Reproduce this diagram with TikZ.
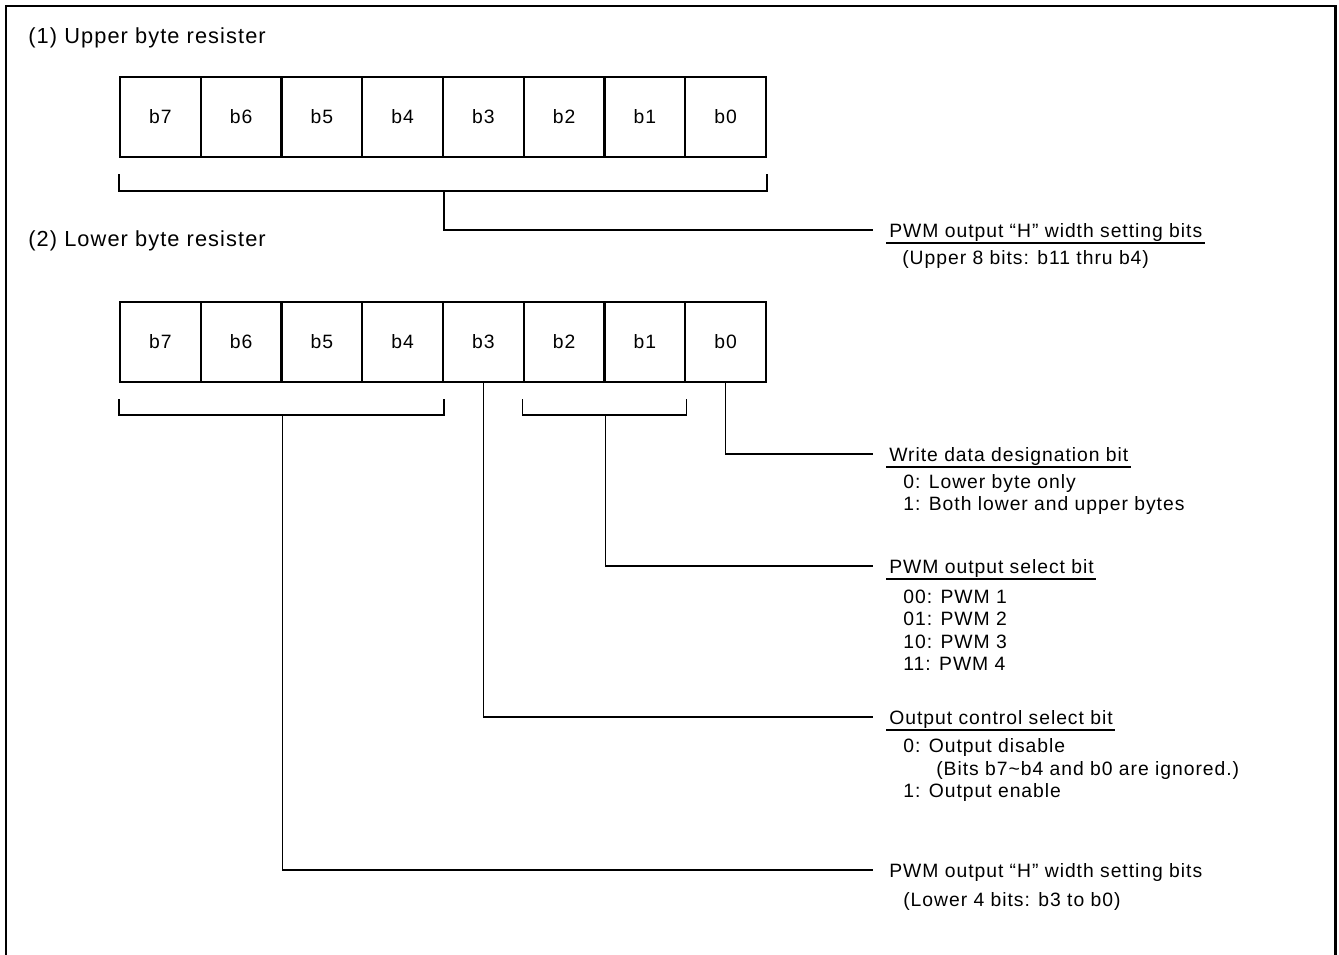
\documentclass[tikz,border=0pt]{standalone}
\usepackage{fontspec}
\setmainfont{Liberation Sans}[LetterSpace=5]
\usetikzlibrary{positioning}

\begin{document}
\begin{tikzpicture}[
    x=0.02cm,y=-0.02cm,
    bitcell/.style={draw,line width=1.3pt,minimum width=1.615cm,minimum height=1.6cm,inner sep=0pt,font=\fontsize{11}{13}\selectfont},
    wire/.style={line width=0.8pt},
    regtitle/.style={anchor=base west,inner sep=0pt,font=\fontsize{12.4}{14}\selectfont},
    fieldname/.style={anchor=base west,inner sep=0pt,font=\fontsize{11}{13}\selectfont},
    fielddesc/.style={anchor=base west,inner sep=0pt,align=left,font=\fontsize{11}{12.86}\selectfont}
]
    \useasboundingbox (0,0) rectangle (1339,954);
    \draw[line width=1.7pt] (6,964) -- (6,6) -- (1335,6) -- (1335,964);

    % register titles
    \node[regtitle] (t1) at (28,43) {(1) Upper byte resister};
    \node[regtitle] (t2) at (28,246) {(2) Lower byte resister};

    % bit cells
    \foreach \b [count=\i from 0] in {7,...,0} {
        \node[bitcell] (u\b) at ({120+80.75*(\i+0.5)},117) {b\b};
        \node[bitcell] (l\b) at ({120+80.75*(\i+0.5)},342) {b\b};
    }

    % field names and descriptions (base = last line)
    \node[fieldname] (h1) at (889,237) {PWM output “H” width setting bits};
    \node[fielddesc] (d1) at ([shift={(0.26cm,-0.54cm)}]h1.base west) {(Upper 8 bits: b11 thru b4)};
    \node[fieldname] (h2) at (889,461) {Write data designation bit};
    \node[fielddesc] (d2) at ([shift={(0.28cm,-1.0cm)}]h2.base west) {0: Lower byte only\\1: Both lower and upper bytes};
    \node[fieldname] (h3) at (889,573) {PWM output select bit};
    \node[fielddesc] (d3) at ([shift={(0.28cm,-1.96cm)}]h3.base west) {00: PWM 1\\01: PWM 2\\10: PWM 3\\11: PWM 4};
    \node[fieldname] (h4) at (889,724) {Output control select bit};
    \node[fielddesc] (d4) at ([shift={(0.28cm,-1.48cm)}]h4.base west) {0: Output disable\\\hspace*{0.66cm}(Bits b7\textasciitilde b4 and b0 are ignored.)\\1: Output enable};
    \node[fieldname] (h5) at (889,877) {PWM output “H” width setting bits};
    \node[fielddesc] (d5) at ([shift={(0.28cm,-0.58cm)}]h5.base west) {(Lower 4 bits: b3 to b0)};

    % underlines
    \foreach \h in {h1,h2,h3,h4}
        \draw[wire] ([shift={(-0.06cm,-0.12cm)}]\h.base west) -- ([shift={(0.04cm,-0.12cm)}]\h.base east);

    % upper byte bracket
    \draw[wire] ([yshift=-0.32cm]u7.south west) -- ([yshift=-0.66cm]u7.south west) -- ([yshift=-0.66cm]u0.south east) -- ([yshift=-0.32cm]u0.south east);
    \draw[wire] ([yshift=-0.66cm]u4.south east) |- ([shift={(-0.32cm,0.14cm)}]h1.base west);

    % lower byte brackets
    \draw[wire] ([yshift=-0.32cm]l7.south west) -- ([yshift=-0.64cm]l7.south west) -- ([yshift=-0.64cm]l4.south east) -- ([yshift=-0.32cm]l4.south east);
    \draw[wire] ([yshift=-0.32cm]l2.south west) -- ([yshift=-0.64cm]l2.south west) -- ([yshift=-0.64cm]l1.south east) -- ([yshift=-0.32cm]l1.south east);
    \draw[wire] (l0.south) |- ([shift={(-0.32cm,0.14cm)}]h2.base west);
    \draw[wire] ([yshift=-0.64cm]l2.south east) |- ([shift={(-0.32cm,0.14cm)}]h3.base west);
    \draw[wire] (l3.south) |- ([shift={(-0.32cm,0.14cm)}]h4.base west);
    \draw[wire] ([yshift=-0.64cm]l6.south east) |- ([shift={(-0.32cm,0.14cm)}]h5.base west);
\end{tikzpicture}
\end{document}
